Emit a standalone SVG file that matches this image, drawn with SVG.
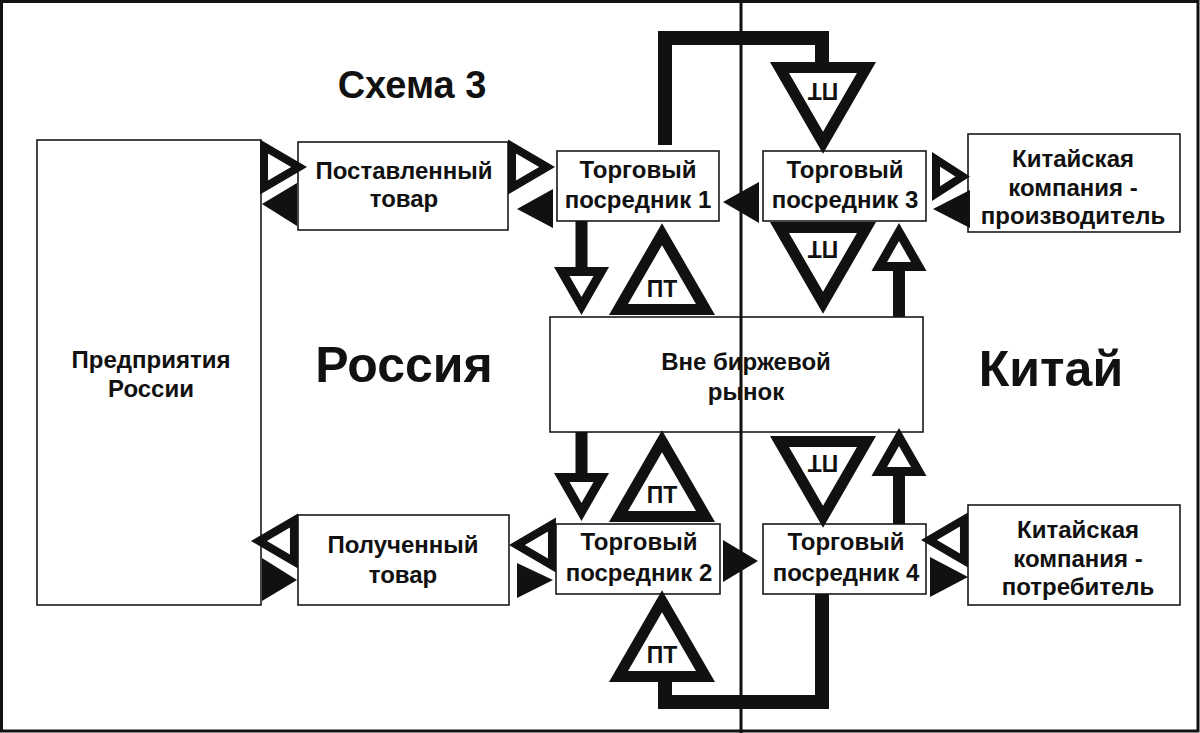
<svg xmlns="http://www.w3.org/2000/svg" width="1200" height="733" viewBox="0 0 1200 733">
<style>
.box{fill:#fff;stroke:#1a1a1a;stroke-width:1.6}
.t{font-family:"Liberation Sans",Arial,sans-serif;font-weight:bold;font-size:24px;text-anchor:middle;fill:#111}
.pt{font-family:"Liberation Sans",Arial,sans-serif;font-weight:bold;font-size:23px;text-anchor:middle;fill:#111}
.big{font-family:"Liberation Sans",Arial,sans-serif;font-weight:bold;text-anchor:middle;fill:#111}
.tri{fill:#fff;stroke:#111;stroke-width:11;stroke-linejoin:miter}
.ah{fill:#fff;stroke:#111;stroke-width:9;stroke-linejoin:miter}
.sh{fill:#fff;stroke:#111;stroke-width:8;stroke-linejoin:miter}
.fill{fill:#111}
.thick{fill:none;stroke:#111;stroke-width:14;stroke-linejoin:miter}
</style>
<defs>
<polygon id="ptUp" class="tri" points="0,-50.2 43.5,25.1 -43.5,25.1"/>
<polygon id="ahDown" class="ah" points="-19.75,-11.44 19.75,-11.44 0,23"/>
<polygon id="sideR" class="sh" points="-11.76,-20.5 -11.76,20.5 23.3,0"/>
</defs>
<rect x="1.5" y="1.5" width="1196.5" height="729.5" fill="#fff" stroke="#111" stroke-width="3"/>

<g id="title"><text class="big" x="412" y="98" font-size="38">Схема 3</text></g>
<g id="label-russia"><text class="big" x="404" y="382" font-size="50">Россия</text></g>
<g id="label-china"><text class="big" x="1051" y="386" font-size="50">Китай</text></g>

<g id="node-enterprises">
<rect class="box" x="37" y="140" width="224" height="465"/>
<text class="t" x="151" y="368">Предприятия</text>
<text class="t" x="151" y="397">России</text>
</g>
<g id="node-supplied">
<rect class="box" x="298" y="142" width="210" height="88"/>
<text class="t" x="404" y="179">Поставленный</text>
<text class="t" x="404" y="207">товар</text>
</g>
<g id="node-trader1">
<rect class="box" x="557" y="151" width="162" height="70"/>
<text class="t" x="638" y="178">Торговый</text>
<text class="t" x="638" y="208">посредник 1</text>
</g>
<g id="node-trader3">
<rect class="box" x="763" y="151" width="163" height="70"/>
<text class="t" x="845" y="178">Торговый</text>
<text class="t" x="845" y="208">посредник 3</text>
</g>
<g id="node-cn-producer">
<rect class="box" x="968" y="134" width="212" height="98"/>
<text class="t" x="1073" y="167">Китайская</text>
<text class="t" x="1073" y="196">компания -</text>
<text class="t" x="1073" y="224">производитель</text>
</g>
<g id="node-otc">
<rect class="box" x="550" y="317" width="373" height="115"/>
<text class="t" x="746" y="370">Вне биржевой</text>
<text class="t" x="746" y="400">рынок</text>
</g>
<g id="node-received">
<rect class="box" x="298" y="515" width="211" height="90"/>
<text class="t" x="403" y="553">Полученный</text>
<text class="t" x="403" y="583">товар</text>
</g>
<g id="node-trader2">
<rect class="box" x="556" y="524" width="164" height="70"/>
<text class="t" x="639" y="550">Торговый</text>
<text class="t" x="639" y="581">посредник 2</text>
</g>
<g id="node-trader4">
<rect class="box" x="763" y="524" width="163" height="70"/>
<text class="t" x="846" y="550">Торговый</text>
<text class="t" x="846" y="581">посредник 4</text>
</g>
<g id="node-cn-consumer">
<rect class="box" x="968" y="505" width="212" height="100"/>
<text class="t" x="1078" y="538">Китайская</text>
<text class="t" x="1078" y="567">компания -</text>
<text class="t" x="1078" y="595">потребитель</text>
</g>

<line x1="741" y1="0" x2="741" y2="733" stroke="#111" stroke-width="3"/>

<g id="connectors">
<path class="thick" d="M665,145 V38 H822 V66"/>
<path class="thick" d="M665,680 V702 H822 V594"/>
<rect class="fill" x="575.5" y="221" width="12" height="48"/>
<rect class="fill" x="575.5" y="432" width="12" height="43"/>
<rect class="fill" x="893" y="268" width="12" height="49"/>
<rect class="fill" x="893" y="474" width="12" height="50"/>
<use href="#ahDown" transform="translate(581.5,282.9)"/>
<use href="#ahDown" transform="translate(581.5,488.9)"/>
<use href="#ahDown" transform="translate(899,255.1) rotate(180)"/>
<use href="#ahDown" transform="translate(899,460.1) rotate(180)"/>
<use href="#sideR" transform="translate(275.8,167)"/>
<use href="#sideR" transform="translate(523.8,167)"/>
<polygon class="sh" points="936,159.4 936,193.6 962.6,176.5"/>
<use href="#sideR" transform="translate(282.2,541) rotate(180)"/>
<use href="#sideR" transform="translate(540.2,545) rotate(180)"/>
<use href="#sideR" transform="translate(952.2,540) rotate(180)"/>
<polygon class="fill" points="297,183 297,226 262,204"/>
<polygon class="fill" points="553,189 553,228 517,209"/>
<polygon class="fill" points="759,182 759,223 723,202"/>
<polygon class="fill" points="970,190 970,228 933,209"/>
<polygon class="fill" points="262,558 262,601 297,580"/>
<polygon class="fill" points="517,563 517,598 553,580"/>
<polygon class="fill" points="723,540 723,582 758,561"/>
<polygon class="fill" points="930,557 930,597 968,577"/>
</g>

<g id="pt-down-top">
<use href="#ptUp" transform="translate(823,92.6) rotate(180)"/>
<text class="pt" x="823" y="99.5" transform="rotate(180 823 91)">ПТ</text>
</g>
<g id="pt-down-mid">
<use href="#ptUp" transform="translate(823,252.6) rotate(180)"/>
<text class="pt" x="823" y="257.5" transform="rotate(180 823 249)">ПТ</text>
</g>
<g id="pt-down-low">
<use href="#ptUp" transform="translate(823,466.6) rotate(180)"/>
<text class="pt" x="823" y="471.5" transform="rotate(180 823 463)">ПТ</text>
</g>
<g id="pt-up-mid">
<use href="#ptUp" transform="translate(662,284.4)"/>
<text class="pt" x="662" y="297">ПТ</text>
</g>
<g id="pt-up-low">
<use href="#ptUp" transform="translate(662,491.4)"/>
<text class="pt" x="662" y="503">ПТ</text>
</g>
<g id="pt-up-bottom">
<use href="#ptUp" transform="translate(662,651.4)"/>
<text class="pt" x="662" y="663">ПТ</text>
</g>
</svg>
